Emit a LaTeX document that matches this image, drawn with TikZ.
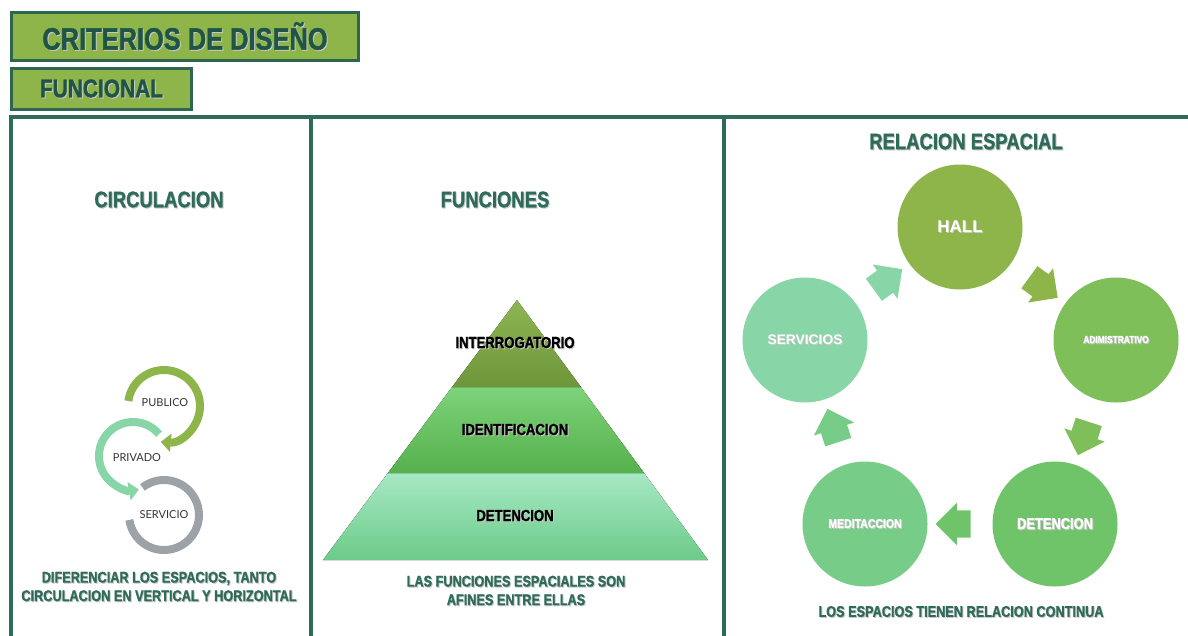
\documentclass[tikz,border=0pt]{standalone}
\usepackage{fontspec}
\setmainfont{Liberation Sans}
\newfontfamily\narrowfont[FakeStretch=0.82, BoldFeatures={FakeBold=1.2}]{Liberation Sans}
\newfontfamily\gillfont{Lato}
\usetikzlibrary{shapes.arrows,calc,arrows.meta}

\definecolor{boxfill}{HTML}{8DB54A}
\definecolor{boxline}{HTML}{2F6650}
\definecolor{titletxt}{HTML}{1F5446}
\definecolor{frameline}{HTML}{2E6B59}
\definecolor{headtxt}{HTML}{2F6B5A}
\definecolor{cpub}{HTML}{8DB54A}
\definecolor{cpriv}{HTML}{88D5A8}
\definecolor{cserv}{HTML}{9DA2A8}
\definecolor{chall}{HTML}{8DB54A}
\definecolor{cadm}{HTML}{7FBF5A}
\definecolor{cdet}{HTML}{6FC46A}
\definecolor{cmed}{HTML}{77CD88}
\definecolor{cser}{HTML}{88D5A8}
\definecolor{topA}{HTML}{8DB551}
\definecolor{topB}{HTML}{6D963A}
\definecolor{midA}{HTML}{7DD37A}
\definecolor{midB}{HTML}{56B04C}
\definecolor{lowA}{HTML}{A7E8C5}
\definecolor{lowB}{HTML}{6CCB89}

% text with a soft drop shadow
\newcommand{\shd}[1]{\makebox[0pt][l]{\hspace{1pt}\raisebox{-1pt}{\textcolor{black!22}{#1}}}#1}

\tikzset{
  titlebox/.style={draw=boxline, line width=3pt, fill=boxfill, anchor=north west, inner sep=0pt, text=titletxt},
  heading/.style={text=headtxt, font={\narrowfont\bfseries\fontsize{22.5pt}{26pt}\selectfont}},
  caption/.style={text=headtxt, align=center, font={\narrowfont\bfseries\fontsize{15.5pt}{18.5pt}\selectfont}},
  frame/.style={draw=frameline, line width=3.5pt},
  ring/.style={line width=8pt},
  ringlabel/.style={text=black!80, font={\gillfont\fontsize{11pt}{13pt}\selectfont}},
  space/.style={circle, minimum size=125pt, inner sep=0pt, text=white},
  blockarrow/.style={single arrow, inner xsep=0pt, inner ysep=13.5pt, minimum height=35pt,
    single arrow head extend=7.5pt, single arrow tip angle=90},
  tier/.style={text=black, font={\narrowfont\bfseries\fontsize{16pt}{18pt}\selectfont}}
}

\begin{document}
\begin{tikzpicture}[x=1pt,y=1pt]
\useasboundingbox (0,0) rectangle (1188,-635);

% titles
\node[titlebox, minimum width=347pt, minimum height=48pt, font={\narrowfont\bfseries\fontsize{31pt}{34pt}\selectfont}] (T) at (10,-11)
  {\shd{CRITERIOS DE DISEÑO}};
\node[titlebox, minimum width=180pt, minimum height=41pt, font={\narrowfont\bfseries\fontsize{25.5pt}{28pt}\selectfont}] (F) at (10,-67)
  {\shd{FUNCIONAL}};

% panels
\draw[frame] (11,-640) |- (1190,-117);
\draw[frame] (311,-117) -- (311,-640);
\draw[frame] (724,-117) -- (724,-640);

% circulacion
\node[heading] (circ) at (159,-200) {\shd{CIRCULACION}};
\draw[ring, cpub, -{Triangle[width=18pt,length=10pt]}] (164,-406) ++(172:36) arc[start angle=172, end angle=-95, radius=36];
\draw[ring, cserv] (164,-515) ++(128:35) arc[start angle=128, end angle=-172, radius=35];
\draw[ring, cpriv, -{Triangle[width=18pt,length=10pt]}] (133,-456) ++(40:34) arc[start angle=40, end angle=280, radius=34];
\begin{scope}[every node/.style={ringlabel}]
\node (pub) at (165,-403) {PUBLICO};
\node (priv) at (137,-458) {PRIVADO};
\node (serv) at (164,-515) {SERVICIO};
\end{scope}
\node[caption] (circtxt) at (159,-587) {\shd{DIFERENCIAR LOS ESPACIOS, TANTO}\\\shd{CIRCULACION EN VERTICAL Y HORIZONTAL}};

% funciones
\node[heading] (func) at (495,-200) {\shd{FUNCIONES}};
\coordinate (apex) at (517,-300);
\coordinate (bl) at (323,-560);
\coordinate (br) at (708,-560);
\coordinate (l1) at ($(apex)!0.3346!(bl)$);
\coordinate (r1) at ($(apex)!0.3346!(br)$);
\coordinate (l2) at ($(apex)!0.6654!(bl)$);
\coordinate (r2) at ($(apex)!0.6654!(br)$);
\fill[top color=lowA, bottom color=lowB] (l2) -- (r2) -- (br) -- (bl) -- cycle;
\fill[top color=midA, bottom color=midB] (l1) -- (r1) -- (r2) -- (l2) -- cycle;
\fill[top color=topA, bottom color=topB] (apex) -- (r1) -- (l1) -- cycle;
\begin{scope}[every node/.style={tier}]
\node (inter) at (515,-343) {\shd{INTERROGATORIO}};
\node (ident) at (515,-430) {\shd{IDENTIFICACION}};
\node (deten) at (515,-516) {\shd{DETENCION}};
\end{scope}
\node[caption] (functxt) at (516,-591) {\shd{LAS FUNCIONES ESPACIALES SON}\\\shd{AFINES ENTRE ELLAS}};

% relacion espacial
\node[heading] (rel) at (966,-142) {\shd{RELACION ESPACIAL}};
\node[space, fill=chall, font={\bfseries\fontsize{17pt}{19pt}\selectfont}] (hall) at (960,-227) {\shd{HALL}};
\node[space, fill=cadm, font={\narrowfont\bfseries\fontsize{10.2pt}{12pt}\selectfont}] (adm) at (1116,-340) {\shd{ADIMISTRATIVO}};
\node[space, fill=cdet, font={\narrowfont\bfseries\fontsize{15.7pt}{18pt}\selectfont}] (det) at (1055,-524) {\shd{DETENCION}};
\node[space, fill=cmed, font={\narrowfont\bfseries\fontsize{12.8pt}{15pt}\selectfont}] (med) at (865,-524) {\shd{MEDITACCION}};
\node[space, fill=cser, font={\bfseries\fontsize{13.8pt}{16pt}\selectfont}] (ser) at (805,-340) {\shd{SERVICIOS}};
\begin{scope}[every node/.style={blockarrow}]
\node[fill=cser, rotate=36] (a1) at ($(ser)!0.5!(hall)$) {};
\node[fill=chall, rotate=-36] (a2) at ($(hall)!0.5!(adm)$) {};
\node[fill=cadm, rotate=-108] (a3) at ($(adm)!0.5!(det)$) {};
\node[fill=cdet, rotate=180] (a4) at ($(det)!0.5!(med)$) {};
\node[fill=cmed, rotate=108] (a5) at ($(med)!0.5!(ser)$) {};
\end{scope}
\node[caption] (reltxt) at (961,-612) {\shd{LOS ESPACIOS TIENEN RELACION CONTINUA}};
\end{tikzpicture}
\end{document}
